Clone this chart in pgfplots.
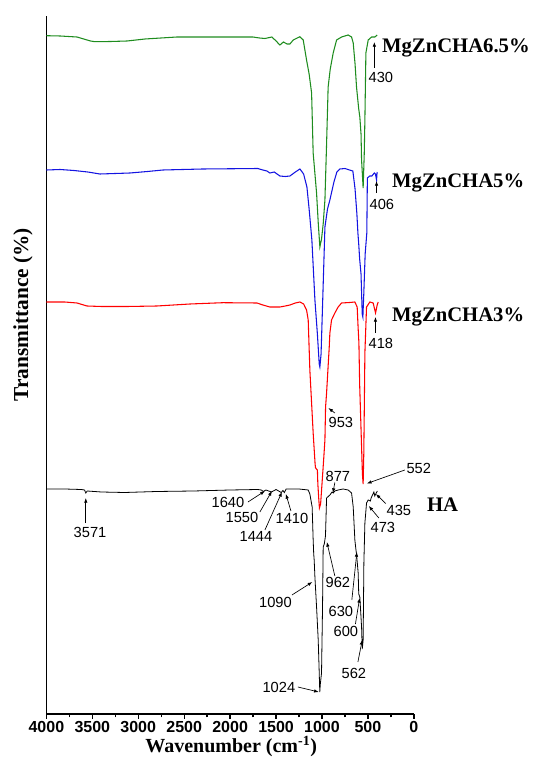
\documentclass[border=0pt]{standalone}
\usepackage{fontspec}
\setmainfont{Liberation Serif}
\newfontfamily\arial{Liberation Sans}
\usepackage{pgfplots}
\pgfplotsset{compat=1.18}
\usetikzlibrary{arrows.meta}

\definecolor{spgreen}{RGB}{30,140,30}
\definecolor{spblue}{RGB}{20,20,225}
\definecolor{spred}{RGB}{255,0,0}

% spectra, y is an arbitrary offset transmittance scale
\pgfplotstableread{
wn y
4000 678.3
3850 678
3667 677
3520 673
3471 672.3
3300 672.5
3123 673
2927 675
2579 677
1752 677
1680 676
1621 675.5
1545 677
1500 673
1458 669
1420 672
1380 670
1349 670
1313 674
1240 677.3
1204 674
1168 654
1140 640
1113 621
1096 561
1059 521
1040 490
1023 467
1005 475
987 490
968 514
950 570
933 627
910 645
878 661
841 674
787 677
715 679
678 677
660 671
640 650
624 627
600 605
588 597
575 580
569 554
552 526
540 560
533 594
522 661
497 674
460 677
424 677
399 679
}\greendata

\pgfplotstableread{
wn y
4000 544
3850 544.5
3700 543.5
3550 542
3417 540
3250 540.5
3090 541
2900 542.5
2731 544
2300 545
1926 545.3
1700 545.5
1643 544
1600 543
1567 541
1520 542
1458 538
1400 537.5
1349 538
1290 542
1240 545
1200 540
1164 527
1140 505
1110 474
1077 414
1050 380
1030 350
1023 347
1010 360
990 420
968 487
940 505
914 514
870 532
838 542
805 545
750 545.5
700 544
664 543
640 525
620 500
609 481
600 470
590 455
575 440
562 400
555 397
545 420
530 460
512 481
506 536
480 538
457 538
430 541
418 540
410 536
406 534
400 542
}\bluedata

\pgfplotstableread{
wn y
4000 412
3800 412
3667 411
3558 408
3400 407.5
3123 407.5
2797 408
2437 410
2078 411.3
1708 411
1643 409
1567 407
1458 407
1400 408
1349 409
1290 411
1240 412
1200 410
1168 404
1150 394
1132 344
1096 281
1075 250
1070 246
1050 244
1045 230
1035 215
1028 206
1015 210
1000 230
985 250
968 274
961 307
950 321
921 367
914 381
896 394
860 401
824 407
787 411
700 411.5
642 412
617 407
606 385
598 371
590 330
580 300
570 270
560 240
552 230
545 260
540 300
533 361
515 407
479 412
443 411
417 401
399 409
388 412
}\reddata

\pgfplotstableread{
wn y
4000 225
3800 225
3620 224.5
3585 224
3571 221
3555 223
3400 222
3150 221.5
2800 222.5
2400 223
2000 224
1700 224.5
1660 224
1640 222.5
1610 224
1550 222
1500 224.5
1444 221.5
1425 223.5
1410 221.5
1390 225
1250 225
1150 224
1132 220
1107 207
1096 174
1090 160
1085 154
1077 137
1059 107
1041 74
1030 41
1024 22
1018 30
1005 41
994 107
987 167
975 170
962 178
955 200
950 216
914 219
890 222
877 221
860 223
824 224
769 225
715 224
678 221
660 207
642 174
630 164
624 160
606 141
600 120
588 117
569 87
562 65
556 70
552 74
544 151
533 191
515 211
497 214
473 213
465 216
450 219
435 222
425 218
410 221
397 223
}\hadata

\begin{document}
\begin{tikzpicture}[
  ann/.style={font=\arial\fontsize{11}{12}\selectfont, inner sep=0pt},
  arr/.style={-{Latex[length=3.5pt,width=2.6pt]}, line width=0.5pt, black},
  lab/.style={font=\bfseries\fontsize{15.5}{17}\selectfont, anchor=west, inner sep=0pt}]
\begin{axis}[
  scale only axis, width=275.6pt, height=523.5pt,
  x dir=reverse, xmin=0, xmax=4000, ymin=0, ymax=698,
  axis x line*=bottom, axis y line*=left,
  axis line style={black, line width=1.3pt, -},
  ytick=\empty,
  xtick={0,500,...,4000}, minor x tick num=1,
  tick align=outside, major tick length=3.5pt, minor tick length=2.5pt,
  tick style={black, line width=1pt},
  /pgf/number format/assume math mode=true,
  /pgf/number format/1000 sep={},
  xticklabel style={font=\arial\bfseries\fontsize{12}{13}\selectfont, inner sep=0.5pt, yshift=-1pt},
  xlabel={Wavenumber (cm\textsuperscript{-1})},
  xlabel style={font=\bfseries\fontsize{15}{16}\selectfont, inner sep=0pt, at={(axis description cs:0.503,-0.062)}, anchor=south},
  ylabel={Transmittance (\%)},
  ylabel style={font=\bfseries\fontsize{16}{17}\selectfont, at={(axis description cs:-0.064,0.572)}, anchor=center},
  clip=false,
]
\addplot[spgreen, line width=0.8pt] table[x=wn, y=y] {\greendata};
\addplot[spblue, line width=0.8pt] table[x=wn, y=y] {\bluedata};
\addplot[spred, line width=0.8pt] table[x=wn, y=y] {\reddata};
\addplot[black, line width=0.6pt] table[x=wn, y=y] {\hadata};

% series names
\node[lab] at (axis cs:348,666) {MgZnCHA6.5\%};
\node[lab] at (axis cs:239,531) {MgZnCHA5\%};
\node[lab] at (axis cs:239,397) {MgZnCHA3\%};
\node[lab] at (axis cs:-141,209) {HA};

% peak marks on the doped samples
\draw[arr] (axis cs:430,646) -- (axis cs:430,672);
\node[ann] at (axis cs:359,637) {430};
\draw[arr] (axis cs:406,521) -- (axis cs:406,533);
\node[ann] at (axis cs:348,510) {406};
\draw[arr] (axis cs:418,381) -- (axis cs:418,397);
\node[ann] at (axis cs:359,371) {418};
\draw[arr] (axis cs:860,301) -- (axis cs:930,306);
\node[ann] at (axis cs:794,292) {953};

% peak marks on HA
\draw[arr] (axis cs:3571,191) -- (axis cs:3571,216);
\node[ann] at (axis cs:3525,181.5) {3571};
\draw[arr] (axis cs:1806,212) -- (axis cs:1621,223);
\node[ann] at (axis cs:2024,212) {1640};
\draw[arr] (axis cs:1676,202) -- (axis cs:1545,223);
\node[ann] at (axis cs:1871,196.5) {1550};
\draw[arr] (axis cs:1621,184) -- (axis cs:1436,222);
\node[ann] at (axis cs:1719,178) {1444};
\draw[arr] (axis cs:1338,203) -- (axis cs:1393,220);
\node[ann] at (axis cs:1327,196) {1410};
\draw[arr] (axis cs:860,231.5) -- (axis cs:881,221);
\node[ann] at (axis cs:827,238) {877};
\draw[arr] (axis cs:98,244) -- (axis cs:511,230.5);
\node[ann] at (axis cs:-54,246) {552};
\draw[arr] (axis cs:305,210.4) -- (axis cs:413,220);
\node[ann] at (axis cs:163,204) {435};
\draw[arr] (axis cs:381,196) -- (axis cs:490,208);
\node[ann] at (axis cs:337,187) {473};
\draw[arr] (axis cs:860,138) -- (axis cs:947,172);
\node[ann] at (axis cs:827,132) {962};
\draw[arr] (axis cs:1327,119) -- (axis cs:1105,132);
\node[ann] at (axis cs:1507,112) {1090};
\draw[arr] (axis cs:675,114) -- (axis cs:620,162);
\node[ann] at (axis cs:794,103) {630};
\draw[arr] (axis cs:636,90) -- (axis cs:590,116);
\node[ann] at (axis cs:740,82.5) {600};
\draw[arr] (axis cs:609,52) -- (axis cs:562,74);
\node[ann] at (axis cs:653,41) {562};
\draw[arr] (axis cs:1262,27) -- (axis cs:1035,22);
\node[ann] at (axis cs:1469,26.5) {1024};

% page frame
\path (axis cs:4505,-44) rectangle (axis cs:-1295,714);
\end{axis}
\end{tikzpicture}
\end{document}
